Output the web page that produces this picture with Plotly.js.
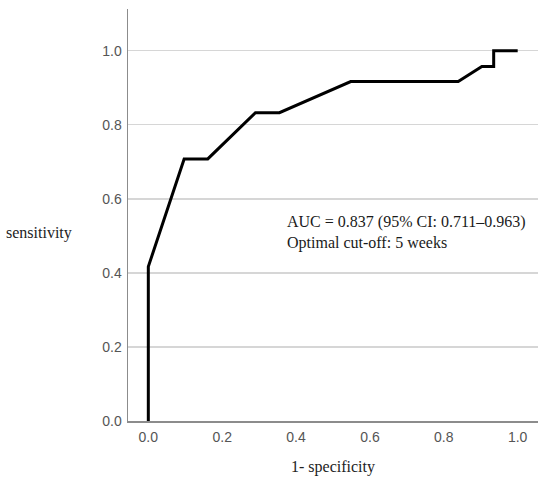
<!DOCTYPE html>
<html>
<head>
<meta charset="utf-8">
<script src="https://cdn.plot.ly/plotly-3.0.1.min.js"></script>
<style>html,body{margin:0;padding:0;background:#fff;}#chart{width:550px;height:483px;}</style>
</head>
<body>
<div id="chart"></div>
<script>
// ROC curve points
const fpr = [0, 0, 0.097, 0.161, 0.290, 0.355, 0.548, 0.839, 0.903, 0.935, 0.935, 1.0];
const tpr = [0, 0.417, 0.708, 0.708, 0.833, 0.833, 0.917, 0.917, 0.958, 0.958, 1.0, 1.0];
const tickVals = [0, 0.2, 0.4, 0.6, 0.8, 1.0];
const tickText = ['0.0', '0.2', '0.4', '0.6', '0.8', '1.0'];
const annotationLines = ['AUC = 0.837 (95% CI: 0.711–0.963)', 'Optimal cut-off: 5 weeks'];

const serif = 'Liberation Serif, Times New Roman, serif';
const sans = 'Liberation Sans, Arial, sans-serif';

const trace = {
  x: fpr, y: tpr, type: 'scatter', mode: 'lines',
  line: {color: '#000', width: 3},
  hoverinfo: 'skip'
};

const layout = {
  width: 550, height: 483,
  margin: {l: 128, r: 12, t: 9, b: 62},
  paper_bgcolor: '#fff', plot_bgcolor: '#fff',
  showlegend: false,
  xaxis: {
    range: [-0.055, 1.055], tickvals: tickVals, ticktext: tickText,
    showgrid: false, zeroline: false,
    showline: true, linecolor: '#8c8c8c', linewidth: 1.5,
    ticks: 'outside', ticklen: 3, tickcolor: 'rgba(0,0,0,0)',
    tickfont: {family: sans, size: 14, color: '#555'},
    title: {text: '1- specificity', font: {family: serif, size: 16, color: '#222'}, standoff: 16}
  },
  yaxis: {
    range: [0, 1.113], tickvals: tickVals, ticktext: tickText,
    showgrid: true, gridcolor: '#d6d6d6', gridwidth: 1.2, zeroline: false,
    showline: true, linecolor: '#8c8c8c', linewidth: 1.5,
    ticks: 'outside', ticklen: 2, tickcolor: 'rgba(0,0,0,0)',
    tickfont: {family: sans, size: 14, color: '#555'}
  },
  annotations: [
    {text: 'sensitivity', xref: 'paper', yref: 'paper', x: (39 - 128) / 410, y: (421 - 233) / 412, xanchor: 'center', yanchor: 'middle',
     showarrow: false, font: {family: serif, size: 16, color: '#222'}},
    {text: annotationLines.join('<br>'), xref: 'paper', yref: 'paper', x: (285 - 128) / 410, y: (421 - 211) / 412,
     xanchor: 'left', yanchor: 'top', align: 'left', showarrow: false,
     font: {family: serif, size: 16, color: '#1a1a1a'}}
  ]
};

Plotly.newPlot('chart', [trace], layout, {staticPlot: true, displayModeBar: false});
</script>
</body>
</html>
